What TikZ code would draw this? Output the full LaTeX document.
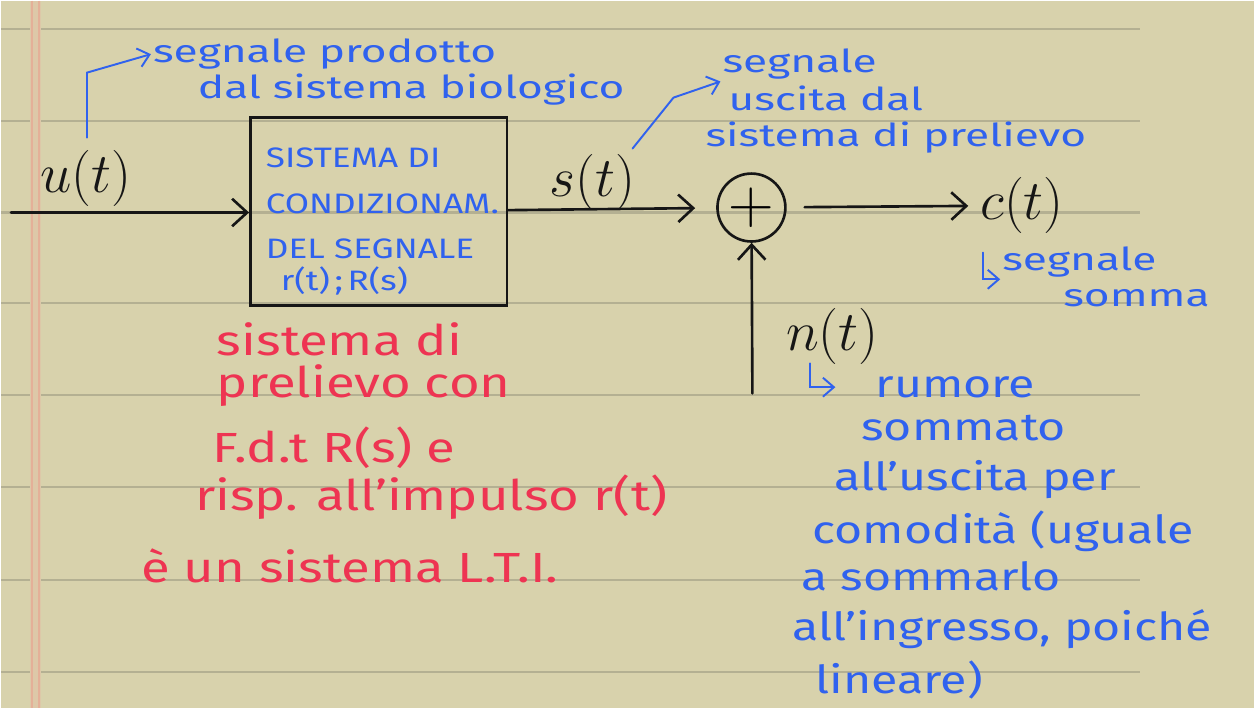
\RequirePackage{fix-cm}
\documentclass[tikz,border=0pt]{standalone}
\usepackage{fontspec}
\setmainfont{Fira Sans}[FakeStretch=1.25]
\newfontfamily\handwide{Fira Sans}[FakeStretch=1.4]
\usetikzlibrary{arrows.meta, positioning}

\definecolor{paper}{RGB}{216,210,172}
\definecolor{rule}{RGB}{180,176,146}
\definecolor{marginband}{RGB}{221,200,168}
\definecolor{margin}{RGB}{228,176,152}
\definecolor{penblue}{RGB}{48,98,238}
\definecolor{penred}{RGB}{238,52,82}
\definecolor{ink}{RGB}{22,22,22}

\begin{document}
\begin{tikzpicture}[
    x=0.02cm, y=-0.02cm,
    every node/.style={inner sep=1pt},
    ruling/.style={draw=rule, line width=1.2pt},
    wire/.style={draw=ink, line width=1.5pt, line cap=round, -{Straight Barb[length=3mm, width=5.5mm]}},
    pointer/.style={draw=penblue, line width=1.1pt, line cap=round, -{Straight Barb[length=2.2mm, width=3.8mm]}},
    block/.style={draw=ink, line width=1.5pt, minimum width=5.14cm, minimum height=3.76cm},
    blocktext/.style={text=penblue, anchor=north west, align=left, font=\fontsize{16}{26}\selectfont},
    adder/.style={draw=ink, line width=1.5pt, circle, minimum size=1.36cm, inner sep=0pt, font=\fontsize{36}{36}\selectfont},
    sig/.style={text=ink, font=\fontsize{32}{32}\selectfont},
    bluenote/.style={text=penblue, anchor=base west, font=\handwide\fontsize{18}{18}\selectfont},
    longnote/.style={text=penblue, anchor=base west, font=\fontsize{22}{22}\selectfont},
    rednote/.style={text=penred, anchor=base west, font=\fontsize{24}{24}\selectfont}
  ]
  % the page
  \fill[paper] (0,0) rectangle (1254,708);
  \foreach \ly in {28,120,212,303,395,487,580,672}
    \draw[ruling] (0,\ly) -- (1140,\ly);
  \fill[marginband] (29,0) rectangle (40,708);
  \draw[margin, line width=0.8pt] (31,0) -- (31,708) (38,0) -- (38,708);
  \useasboundingbox (0,0) rectangle (1254,708);

  % blocks and signals
  \node[block] (blk) at (378,211) {};
  \node[blocktext] (blktxt) at (263,145) {SISTEMA DI\\CONDIZIONAM.\\DEL SEGNALE\\[-8pt]\hspace*{0.3cm}r(t)\,;\,R(s)};
  \node[adder] (sum) at (751,207) {$+$};
  \node[sig] (u) at (85,178) {$u(t)$};
  \node[sig] (s) at (592,182) {$s(t)$};
  \node[sig, anchor=west] (c) at (978,205) {$c(t)$};
  \node[sig] (n) at (832,336) {$n(t)$};

  \coordinate (uin) at (10,212);
  \coordinate (nin) at (752,393);
  \draw[wire] (uin) -- (uin -| blk.west);
  \draw[wire, shorten >=0.42cm] (blk) -- (sum);
  \draw[wire, shorten <=0.36cm, shorten >=0.2cm] (sum) -- (c);
  \draw[wire] (nin) -- (sum);

  % notes
  \foreach \nm/\px/\py/\txt in {A1/150/62/{segnale prodotto}, A2/195/98/{dal sistema biologico},
      B1/720/72/{segnale}, B2/726/110/{uscita dal}, B3/703/146/{sistema di prelievo},
      C1/1000/270/{segnale}, C2/1061/306/{somma}}
    \node[bluenote] (\nm) at (\px,\py) {\txt};
  \foreach \nm/\px/\py/\txt in {D1/873/397/{rumore}, D2/859/440/{sommato}, D3/832/490/{all'uscita per},
      D4/810/543/{comodità (uguale}, D5/799/590/{a sommarlo},
      D6/790/640/{all'ingresso, poiché}, D7/813/693/{lineare)}}
    \node[longnote] (\nm) at (\px,\py) {\txt};
  \foreach \nm/\px/\py/\txt in {E1/214/355/{sistema di}, E2/214/397/{prelievo con},
      E3/210/462/{F.d.t R(s) e}, E4/192/510/{risp. all'impulso r(t)},
      E5/138/582/{è un sistema L.T.I.}}
    \node[rednote] (\nm) at (\px,\py) {\txt};

  \coordinate (pa) at (86,137);
  \coordinate (pb) at (632,148);
  \coordinate (pc) at (983,252);
  \coordinate (pd) at (810,363);
  \draw[pointer] (pa) -- ++(0,-65) -- (A1.west);
  \draw[pointer] (pb) -- ++(41,-51) -- (B1.south west);
  \draw[pointer] (pc) |- (C1.south west);
  \draw[pointer, shorten >=0.76cm] (pd) |- (D1.west);
\end{tikzpicture}
\end{document}
